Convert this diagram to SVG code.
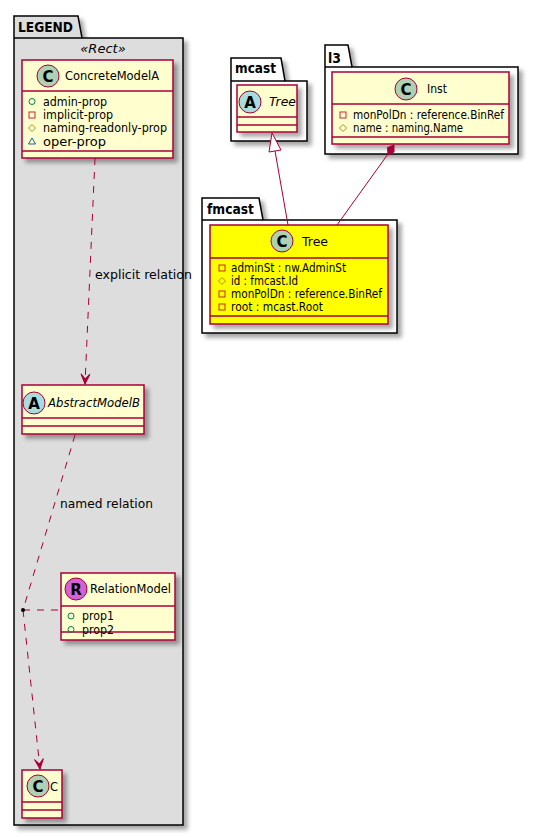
<svg xmlns="http://www.w3.org/2000/svg" width="539" height="837" viewBox="0 0 539 837">
<defs>
<filter id="sh" x="-10%" y="-10%" width="130%" height="130%">
<feGaussianBlur in="SourceAlpha" stdDeviation="2"/>
<feOffset dx="4" dy="4" result="o"/>
<feComponentTransfer><feFuncA type="linear" slope="0.35"/></feComponentTransfer>
<feMerge><feMergeNode/><feMergeNode in="SourceGraphic"/></feMerge>
</filter>
<marker id="arr" markerUnits="userSpaceOnUse" markerWidth="14" markerHeight="12" viewBox="-11 -6 14 12" refX="0" refY="0" orient="auto">
<path d="M0,0 L-10,-4.5 L-5,0 L-10,4.5 Z" fill="#A80036" stroke="#A80036" stroke-width="1"/>
</marker>
</defs>
<style>
text{font-family:"DejaVu Sans","Liberation Sans",sans-serif;fill:#000}
.pkg{fill:#fff;stroke:#000;stroke-width:1.5}
.pkgl{fill:#DDDDDD;stroke:#000;stroke-width:1.5}
.pt{font-size:14px;font-weight:bold}
.cls{fill:#FEFECE;stroke:#A80036;stroke-width:1.5}
.div{stroke:#A80036;stroke-width:1.5}
.nm{font-size:13px}
.it{font-style:italic}
.at{font-size:11.5px}
.spot{stroke:#A80036;stroke-width:1}
.sl{font-size:15px;font-weight:bold;text-anchor:middle}
.pub{fill:none;stroke:#038048;stroke-width:1}
.pri{fill:none;stroke:#C82930;stroke-width:1}
.pro{fill:none;stroke:#B38D22;stroke-width:1}
.pk{fill:none;stroke:#1963A0;stroke-width:1}
.ln{fill:none;stroke:#A80036;stroke-width:1}
.dash{stroke-dasharray:7,7}
.lbl{font-size:13px}
</style>

<g id="pkg-legend">
<path class="pkgl" filter="url(#sh)" d="M14,16 L78,16 L82,38 L183,38 L183,825 L14,825 Z"/>
<line x1="14" y1="38" x2="82" y2="38" stroke="#000" stroke-width="1.5"/>
<text class="pt" x="18" y="32" textLength="55" lengthAdjust="spacingAndGlyphs">LEGEND</text>
<text class="it" x="103" y="53" font-size="13" text-anchor="middle">«Rect»</text>
</g>

<g id="pkg-mcast">
<path class="pkg" filter="url(#sh)" d="M231,58 L281,58 L285,81 L307,81 L307,141 L231,141 Z"/>
<line x1="231" y1="81" x2="285" y2="81" stroke="#000" stroke-width="1.5"/>
<text class="pt" x="235" y="73" textLength="41" lengthAdjust="spacingAndGlyphs">mcast</text>
</g>

<g id="pkg-l3">
<path class="pkg" filter="url(#sh)" d="M325,45 L348,45 L352,67 L518,67 L518,154 L325,154 Z"/>
<line x1="325" y1="67" x2="352" y2="67" stroke="#000" stroke-width="1.5"/>
<text class="pt" x="328" y="63" textLength="13" lengthAdjust="spacingAndGlyphs">l3</text>
</g>

<g id="pkg-fmcast">
<path class="pkg" filter="url(#sh)" d="M202,198 L259,198 L263,220 L397,220 L397,333 L202,333 Z"/>
<line x1="202" y1="220" x2="263" y2="220" stroke="#000" stroke-width="1.5"/>
<text class="pt" x="207" y="214" textLength="47" lengthAdjust="spacingAndGlyphs">fmcast</text>
</g>

<g id="ConcreteModelA">
<rect class="cls" filter="url(#sh)" x="22" y="60" width="151" height="98"/>
<line class="div" x1="22" y1="91" x2="173" y2="91"/>
<line class="div" x1="22" y1="151" x2="173" y2="151"/>
<circle class="spot" cx="48" cy="76" r="11" fill="#ADD1B2"/>
<text class="sl" x="48" y="81.5">C</text>
<text class="nm" x="65" y="80" textLength="94" lengthAdjust="spacingAndGlyphs">ConcreteModelA</text>
<circle class="pub" cx="32" cy="101.5" r="3"/>
<text class="at" x="43" y="105.5" textLength="64" lengthAdjust="spacingAndGlyphs">admin-prop</text>
<rect class="pri" x="29" y="112" width="6" height="6"/>
<text class="at" x="43" y="119" textLength="70" lengthAdjust="spacingAndGlyphs">implicit-prop</text>
<path class="pro" d="M32,124.5 L35.5,128 L32,131.5 L28.5,128 Z"/>
<text class="at" x="43" y="132" textLength="124" lengthAdjust="spacingAndGlyphs">naming-readonly-prop</text>
<path class="pk" d="M32,138 L35.5,144 L28.5,144 Z"/>
<text class="at" x="43" y="145.5" textLength="63" lengthAdjust="spacingAndGlyphs">oper-prop</text>
</g>

<g id="AbstractModelB">
<rect class="cls" filter="url(#sh)" x="22" y="385" width="122" height="49"/>
<line class="div" x1="22" y1="418" x2="144" y2="418"/>
<line class="div" x1="22" y1="426" x2="144" y2="426"/>
<circle class="spot" cx="34" cy="403" r="11" fill="#A9DCDF"/>
<text class="sl" x="34" y="408.5">A</text>
<text class="nm it" x="48" y="407" textLength="92" lengthAdjust="spacingAndGlyphs">AbstractModelB</text>
</g>

<g id="RelationModel">
<rect class="cls" filter="url(#sh)" x="61" y="573" width="114" height="67"/>
<line class="div" x1="61" y1="606" x2="175" y2="606"/>
<line class="div" x1="61" y1="632" x2="175" y2="632"/>
<circle class="spot" cx="76" cy="589" r="11" fill="#D561D5"/>
<text class="sl" x="76" y="594.5">R</text>
<text class="nm" x="90" y="593" textLength="81" lengthAdjust="spacingAndGlyphs">RelationModel</text>
<circle class="pub" cx="71" cy="616" r="3"/>
<text class="at" x="82" y="620" textLength="32" lengthAdjust="spacingAndGlyphs">prop1</text>
<circle class="pub" cx="71" cy="629.5" r="3"/>
<text class="at" x="82" y="633.5" textLength="32" lengthAdjust="spacingAndGlyphs">prop2</text>
</g>

<g id="C">
<rect class="cls" filter="url(#sh)" x="22" y="770" width="40" height="48"/>
<line class="div" x1="22" y1="802" x2="62" y2="802"/>
<line class="div" x1="22" y1="810" x2="62" y2="810"/>
<circle class="spot" cx="38" cy="786" r="11" fill="#ADD1B2"/>
<text class="sl" x="38" y="791.5">C</text>
<text class="nm" x="50" y="791" textLength="8" lengthAdjust="spacingAndGlyphs">C</text>
</g>

<g id="mcast.Tree">
<rect class="cls" filter="url(#sh)" x="237" y="85" width="60" height="47"/>
<line class="div" x1="237" y1="117" x2="297" y2="117"/>
<line class="div" x1="237" y1="125" x2="297" y2="125"/>
<circle class="spot" cx="250" cy="102" r="11" fill="#A9DCDF"/>
<text class="sl" x="250" y="107.5">A</text>
<text class="nm it" x="269" y="106" textLength="27" lengthAdjust="spacingAndGlyphs">Tree</text>
</g>

<g id="l3.Inst">
<rect class="cls" filter="url(#sh)" x="332" y="72" width="177" height="72"/>
<line class="div" x1="332" y1="104" x2="509" y2="104"/>
<line class="div" x1="332" y1="137" x2="509" y2="137"/>
<circle class="spot" cx="406" cy="89" r="11" fill="#ADD1B2"/>
<text class="sl" x="406" y="94.5">C</text>
<text class="nm" x="427" y="93" textLength="20" lengthAdjust="spacingAndGlyphs">Inst</text>
<rect class="pri" x="340" y="112" width="6" height="6"/>
<text class="at" x="353" y="119" textLength="151" lengthAdjust="spacingAndGlyphs">monPolDn : reference.BinRef</text>
<path class="pro" d="M343,124.5 L346.5,128 L343,131.5 L339.5,128 Z"/>
<text class="at" x="353" y="132" textLength="110" lengthAdjust="spacingAndGlyphs">name : naming.Name</text>
</g>

<g id="fmcast.Tree">
<rect filter="url(#sh)" x="210" y="225" width="178" height="99" fill="#FFFF00" stroke="#A80036" stroke-width="1.5"/>
<line class="div" x1="210" y1="258" x2="388" y2="258"/>
<line class="div" x1="210" y1="316" x2="388" y2="316"/>
<circle class="spot" cx="282" cy="241" r="11" fill="#ADD1B2"/>
<text class="sl" x="282" y="246.5">C</text>
<text class="nm" x="302" y="246" textLength="26" lengthAdjust="spacingAndGlyphs">Tree</text>
<rect class="pri" x="219" y="265" width="6" height="6"/>
<text class="at" x="231" y="272" textLength="115" lengthAdjust="spacingAndGlyphs">adminSt : nw.AdminSt</text>
<path class="pro" d="M222,277.5 L225.5,281 L222,284.5 L218.5,281 Z"/>
<text class="at" x="231" y="285" textLength="67" lengthAdjust="spacingAndGlyphs">id : fmcast.Id</text>
<rect class="pri" x="219" y="291" width="6" height="6"/>
<text class="at" x="231" y="298" textLength="151" lengthAdjust="spacingAndGlyphs">monPolDn : reference.BinRef</text>
<rect class="pri" x="219" y="304" width="6" height="6"/>
<text class="at" x="231" y="311" textLength="92" lengthAdjust="spacingAndGlyphs">root : mcast.Root</text>
</g>

<g id="connectors">
<path class="ln dash" d="M95,158 L85,384" marker-end="url(#arr)"/>
<text class="lbl" x="95" y="279" textLength="97" lengthAdjust="spacingAndGlyphs">explicit relation</text>
<path class="ln dash" d="M75,435 L23,610"/>
<text class="lbl" x="60" y="508" textLength="93" lengthAdjust="spacingAndGlyphs">named relation</text>
<path class="ln dash" d="M23,610 L61,610"/>
<path class="ln dash" d="M23,610 L40,769" marker-end="url(#arr)"/>
<circle cx="23" cy="610" r="2" fill="#000"/>
<path class="ln" d="M275,151 L288,225"/>
<path d="M272,133 L281,150 L269,152 Z" fill="#fff" stroke="#A80036" stroke-width="1"/>
<path class="ln" d="M388,154 L337,225"/>
<path d="M394,145 L394,152 L388,155 L387.5,147.5 Z" fill="#A80036" stroke="#A80036" stroke-width="1"/>
</g>
</svg>
